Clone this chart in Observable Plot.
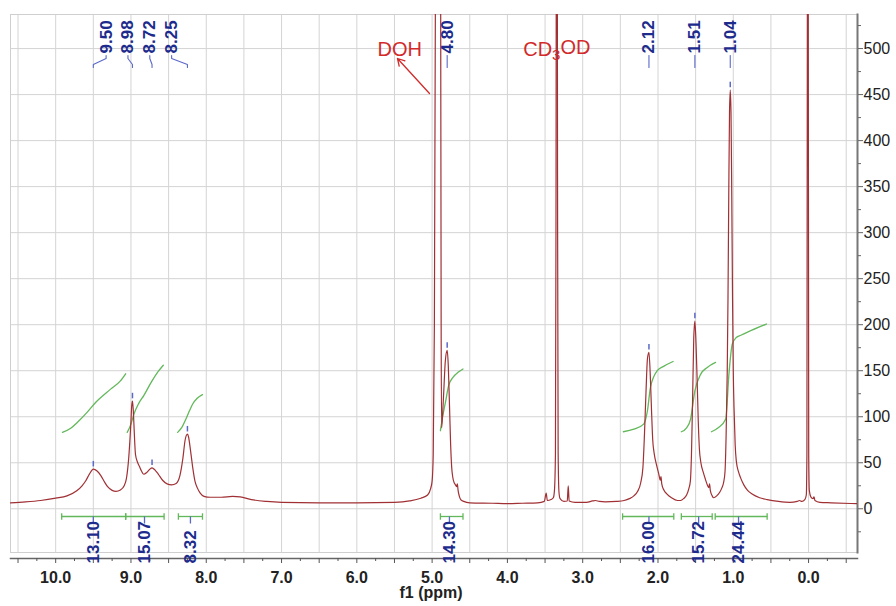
<!DOCTYPE html>
<html>
<head>
<meta charset="utf-8">
<script src="https://cdn.jsdelivr.net/npm/d3@7"></script>
<script src="https://cdn.jsdelivr.net/npm/@observablehq/plot@0.6"></script>
<style>
  html, body { margin: 0; padding: 0; background: #fff; }
</style>
</head>
<body>
<div id="chart"></div>
<script>
// ---------- data ----------
// 1H NMR spectrum: chemical shift (ppm) and intensity
const spectrumPpm = [
  10.60, 10.40, 10.20, 10.00, 9.85, 9.72, 9.65, 9.60, 9.55, 9.50, 9.45, 9.40, 9.35, 9.31, 9.25, 9.20, 9.14, 9.09, 9.06, 9.03,
  9.01, 9.00, 8.99, 8.98, 8.97, 8.965, 8.95, 8.94, 8.91, 8.89, 8.86, 8.83, 8.79, 8.75, 8.72, 8.68, 8.64, 8.58, 8.52, 8.46,
  8.40, 8.35, 8.31, 8.28, 8.25, 8.235, 8.21, 8.18, 8.15, 8.12, 8.08, 8.03, 7.95, 7.80, 7.65, 7.55, 7.40, 7.20, 7.00, 6.50,
  6.00, 5.50, 5.30, 5.15, 5.06, 5.02, 5.00, 4.985, 4.97, 4.957, 4.94, 4.92, 4.90, 4.886, 4.88, 4.874, 4.86, 4.845, 4.825, 4.80,
  4.785, 4.77, 4.755, 4.74, 4.725, 4.71, 4.69, 4.675, 4.665, 4.655, 4.64, 4.62, 4.58, 4.50, 4.20, 4.00, 3.80, 3.60, 3.51, 3.485,
  3.47, 3.42, 3.39, 3.375, 3.362, 3.355, 3.35, 3.344, 3.338, 3.333, 3.326, 3.315, 3.30, 3.25, 3.205, 3.192, 3.18, 3.10, 2.95, 2.87,
  2.83, 2.78, 2.70, 2.55, 2.45, 2.38, 2.32, 2.27, 2.23, 2.20, 2.18, 2.16, 2.14, 2.12, 2.10, 2.085, 2.07, 2.05, 2.02, 1.99,
  1.97, 1.96, 1.95, 1.92, 1.88, 1.82, 1.74, 1.70, 1.66, 1.62, 1.59, 1.57, 1.555, 1.54, 1.525, 1.51, 1.495, 1.48, 1.465, 1.45,
  1.43, 1.40, 1.37, 1.34, 1.325, 1.315, 1.305, 1.28, 1.26, 1.22, 1.18, 1.15, 1.13, 1.11, 1.095, 1.08, 1.07, 1.06, 1.05, 1.04,
  1.03, 1.02, 1.01, 1.00, 0.99, 0.975, 0.96, 0.93, 0.90, 0.86, 0.81, 0.75, 0.65, 0.55, 0.40, 0.25, 0.15, 0.12, 0.09, 0.05,
  0.03, 0.022, 0.016, 0.01, 0.004, -0.002, -0.01, -0.03, -0.06, -0.072, -0.085, -0.15, -0.30, -0.65
];
const spectrumIntensity = [
  6.5, 7.5, 9, 11.5, 14, 19.5, 25, 30.5, 38, 43, 41, 36, 29, 24, 20, 19, 20.5, 25, 33, 55,
  80, 95, 112, 117, 108, 100, 72, 59, 50, 46.5, 41, 37.5, 39.5, 43, 44.5, 42, 38, 31, 27, 26,
  27.5, 36, 55, 75, 81, 78, 64, 45, 30, 23, 17, 13.5, 12.5, 12.5, 13.5, 13, 10, 8, 7, 6.5,
  6.5, 7, 8.5, 11.5, 15, 22, 30, 60, 200, 540, 1500, 3000, 1500, 540, 200, 88, 104, 128, 160, 172,
  155, 115, 72, 45, 34, 29, 26, 24, 27, 20, 14, 10, 8, 6.5, 6, 5.5, 6, 6.5, 8, 17,
  9, 10, 12, 20, 60, 300, 700, 2500, 700, 300, 60, 18, 11, 8, 8.5, 25, 8.5, 7, 7, 8.5,
  9, 8, 7.5, 8, 9, 11, 14, 19, 28, 45, 80, 125, 163, 170, 140, 105, 75, 60, 48, 38,
  31, 35, 27, 20, 16, 12, 9, 9, 11, 15, 22, 30, 60, 120, 185, 204, 180, 140, 95, 65,
  50, 40, 32, 25, 23, 27, 20, 14, 12, 14, 18, 23, 28, 40, 80, 150, 230, 340, 430, 455,
  430, 340, 230, 150, 110, 70, 52, 40, 33, 26, 20, 16, 12, 10, 8, 7, 8, 9, 8, 10,
  15, 60, 540, 2500, 540, 60, 20, 13, 11, 13, 9, 7, 6.5, 5.5
];

// picked peaks
const peakShifts  = [9.50, 8.98, 8.72, 8.25, 4.80, 2.12, 1.51, 1.04];
const peakHeights = [43, 117, 44.5, 81, 172, 170, 204, 455];
const peakLabelAt = [9.33, 9.04, 8.75, 8.46, 4.80, 2.12, 1.51, 1.04];

// integrals
const integralValues = [13.10, 15.07, 8.32, 14.30, 16.00, 15.72, 24.44];
const integralStart  = [9.92, 9.07, 8.37, 4.89, 2.47, 1.69, 1.24];
const integralEnd    = [9.07, 8.56, 8.05, 4.59, 1.79, 1.28, 0.55];
const integralCenter = [9.50, 8.82, 8.21, 4.77, 2.12, 1.46, 0.93];

// integral curves (ppm, displayed height)
const integralCurvePpm = [
  [9.91, 9.80, 9.71, 9.58, 9.47, 9.27, 9.14, 9.07],
  [9.05, 9.00, 8.96, 8.90, 8.83, 8.72, 8.64, 8.57],
  [8.38, 8.32, 8.27, 8.22, 8.18, 8.12, 8.05],
  [4.89, 4.86, 4.82, 4.78, 4.72, 4.65, 4.59],
  [2.46, 2.32, 2.19, 2.14, 2.10, 2.01, 1.92, 1.80],
  [1.69, 1.62, 1.567, 1.51, 1.434, 1.345, 1.235],
  [1.29, 1.20, 1.10, 1.058, 1.013, 0.96, 0.90, 0.81, 0.56]
];
const integralCurveValue = [
  [83, 87.5, 94, 105, 115.5, 130, 139, 146.7],
  [83, 92, 103, 114, 123, 139, 149, 156],
  [83, 89, 97.5, 107, 113.8, 120, 124],
  [84.8, 100, 117, 134, 143, 148.5, 151.8],
  [83.7, 86.6, 92, 106.5, 132, 150, 155, 160],
  [83.7, 88, 97.5, 128, 146, 153.6, 159],
  [83.7, 88, 97.5, 146, 179, 186, 188.5, 192, 200.7]
];

// solvent annotations
const solventNames = ["DOH", "CD\u2083OD"];
const solventLabelAt = [5.43, 3.344];

// axes
const xTickLabels = d3.range(0, 11, 1);
const yTickLabels = d3.range(0, 501, 50);

// ---------- layout ----------
const W = 896, H = 606;
const mTop = 14, mRight = 39, mBottom = 54, mLeft = 10;
const xDomain = [10.6, -0.65];
const yDomain = [-47.5, 537];
const vAt = py => yDomain[1] - (py - mTop) * (yDomain[1] - yDomain[0]) / (H - mTop - mBottom);
const ppmAt = px => xDomain[0] - (px - mLeft) * (xDomain[0] - xDomain[1]) / (W - mLeft - mRight);

const spectrum = spectrumPpm.map((p, i) => ({ppm: p, v: spectrumIntensity[i]}));
const curves = integralCurvePpm.flatMap((arr, k) => arr.map((p, i) => ({k, ppm: p, v: integralCurveValue[k][i]})));
const peaks = peakShifts.map((s, i) => ({s, h: peakHeights[i], lx: peakLabelAt[i]}));
const connectors = peaks.flatMap((d, i) => [
  {i, ppm: d.lx, v: vAt(55)}, {i, ppm: d.lx, v: vAt(58)},
  {i, ppm: d.s, v: vAt(64)}, {i, ppm: d.s, v: vAt(67)}
]);
const integrals = integralValues.map((val, i) => ({val, a: integralStart[i], b: integralEnd[i], c: integralCenter[i]}));
const barV = vAt(516);

const green = "#62b85a";
const navy = "#1d2b8c";
const blueMark = "#5b69c9";
const red = "#d22a2a";

const chart = Plot.plot({
  width: W, height: H,
  marginTop: mTop, marginRight: mRight, marginBottom: mBottom, marginLeft: mLeft,
  x: {domain: xDomain, label: null},
  y: {domain: yDomain, label: null},
  style: {fontFamily: "'Liberation Sans', Arial, Helvetica, sans-serif", background: "white", color: "#222"},
  marks: [
    Plot.gridX({ticks: d3.range(-0.5, 10.51, 0.5), stroke: "#d4d4d4", strokeOpacity: 1}),
    Plot.gridY({ticks: yTickLabels, stroke: "#d4d4d4", strokeOpacity: 1}),
    Plot.frame({stroke: "#cfcfcf"}),
    // right y axis
    Plot.frame({anchor: "right", stroke: "#777", strokeWidth: 2}),
    Plot.axisY({anchor: "right", ticks: yTickLabels, tickSize: 5, tickPadding: 1, fontSize: 16, stroke: "#666", fill: "#222", label: null}),
    Plot.axisY({anchor: "right", ticks: d3.range(-25, 526, 50), tickSize: 3, tickFormat: () => "", stroke: "#666", label: null}),
    // bottom x axis
    Plot.frame({anchor: "bottom", dy: 6, stroke: "#666", strokeWidth: 1.5}),
    Plot.axisX({ticks: d3.range(-0.5, 10.51, 0.5), tickSize: 5, dy: 6, tickFormat: () => "", stroke: "#555", label: null}),
    Plot.axisX({ticks: d3.range(-0.25, 10.51, 0.5), tickSize: 3, dy: 6, tickFormat: () => "", stroke: "#555", label: null}),
    Plot.axisX({ticks: xTickLabels, tickSize: 0, tickPadding: 19, tickFormat: d => d.toFixed(1), fontSize: 16, fontWeight: "bold", fill: "#222", label: null}),
    Plot.text(["f1 (ppm)"], {frameAnchor: "bottom", dy: 45, dx: -3, fontSize: 16, fontWeight: "bold", fill: "#222"}),

    // integral curves
    Plot.line(curves, {x: "ppm", y: "v", z: "k", curve: "monotone-x", stroke: green, strokeWidth: 1.3}),
    // spectrum
    Plot.line(spectrum, {x: "ppm", y: "v", curve: "monotone-x", stroke: "#a03034", strokeWidth: 1.2, clip: true}),

    // integral bars
    Plot.link(integrals, {x1: "a", x2: "b", y1: barV, y2: barV, stroke: green, strokeWidth: 1.3}),
    Plot.link(integrals.flatMap(d => [d.a, d.b]), {x1: d => d, x2: d => d, y1: barV - 3.5, y2: barV + 3.5, stroke: green, strokeWidth: 1.3}),
    Plot.link(integrals, {x1: "c", x2: "c", y1: barV, y2: vAt(523), stroke: blueMark, strokeWidth: 1.3}),
    Plot.text(integrals, {x: "c", text: d => d.val.toFixed(2), frameAnchor: "bottom", dy: 11, rotate: -90,
      textAnchor: "start", lineAnchor: "middle", fontSize: 17, fontWeight: "bold", fill: navy}),

    // peak picks
    Plot.link(peaks, {x1: "s", x2: "s", y1: d => d.h + 3, y2: d => d.h + 9, stroke: blueMark, strokeWidth: 1.5}),
    Plot.line(connectors, {x: "ppm", y: "v", z: "i", stroke: blueMark, strokeWidth: 1.1}),
    Plot.text(peaks, {x: "lx", text: d => d.s.toFixed(2), frameAnchor: "top", dy: 39, rotate: -90,
      textAnchor: "start", lineAnchor: "middle", fontSize: 17, fontWeight: "bold", fill: navy}),

    // solvent annotations
    Plot.text(solventNames, {x: solventLabelAt, frameAnchor: "top", dy: 35, fontSize: 20, fill: red, lineAnchor: "middle"}),
    Plot.arrow([0], {x1: ppmAt(429), y1: vAt(93), x2: ppmAt(397), y2: vAt(58), stroke: red, strokeWidth: 1.3, headLength: 9})
  ]
});

// render the subscript of CD3OD as a real lowered, smaller "3"
d3.select(chart).selectAll("text").each(function() {
  if (this.textContent === "CD\u2083OD") {
    const t = d3.select(this);
    t.text(null);
    t.append("tspan").text("CD");
    t.append("tspan").attr("font-size", 15).attr("dy", "0.3em").text("3");
    t.append("tspan").attr("dy", "-0.3em").text("OD");
  }
});

document.getElementById("chart").appendChild(chart);
</script>
</body>
</html>
